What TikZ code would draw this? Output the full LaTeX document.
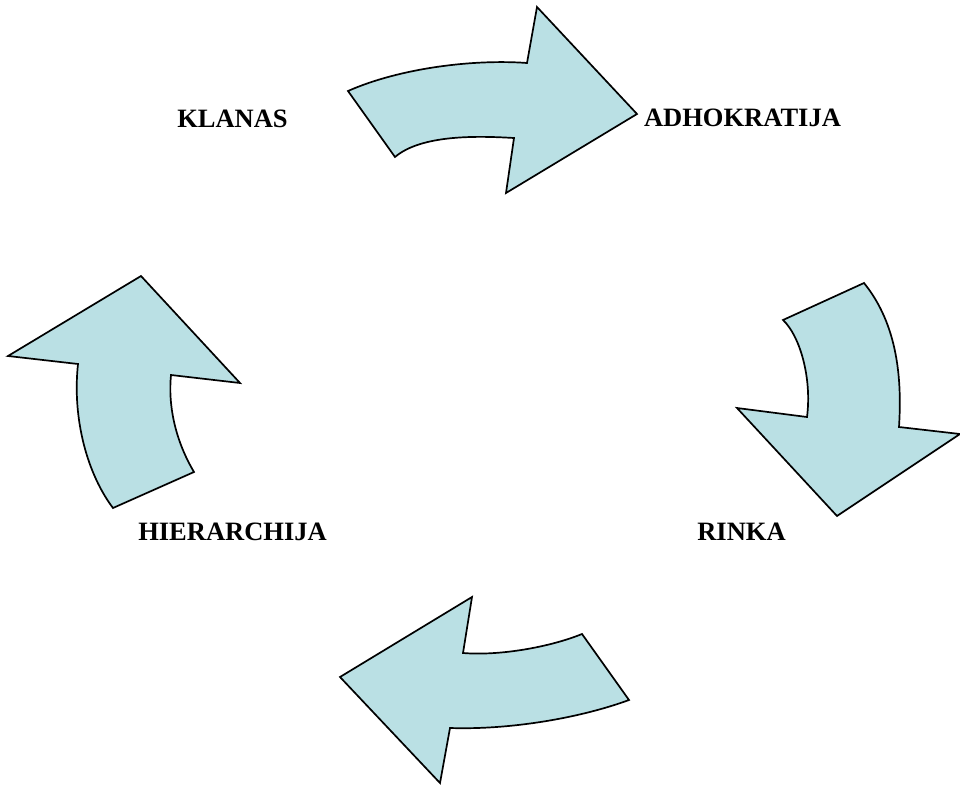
\documentclass[tikz,border=0pt]{standalone}
\usepackage{fontspec}
\setmainfont{Liberation Serif}
\begin{document}
\begin{tikzpicture}[x=1pt, y=-1pt,
  cyclearrow/.style={fill=arrowfill, draw=black, line width=1.7pt, line join=miter},
  phase/.style={font=\fontsize{26.5}{30}\selectfont\bfseries, inner sep=0pt, anchor=base}]
\definecolor{arrowfill}{RGB}{186,224,228}
\useasboundingbox (0,0) rectangle (960,784);

% top arrow: KLANAS -> ADHOKRATIJA
\draw[cyclearrow] (348,91) .. controls (400,68) and (474,59) .. (527,63)
  -- (537,7) -- (637,114) -- (506,193) -- (514,138)
  .. controls (480,136) and (422,134) .. (395,157) -- cycle;

% right arrow: ADHOKRATIJA -> RINKA
\draw[cyclearrow] (864,283) .. controls (898,325) and (902,380) .. (899,427)
  -- (960,434) -- (837,516) -- (737,408) -- (807,417)
  .. controls (812,378) and (800,336) .. (783,320) -- cycle;

% bottom arrow: RINKA -> HIERARCHIJA
\draw[cyclearrow] (629,700) .. controls (580,718) and (510,730) .. (450,728)
  -- (440,783) -- (340,677) -- (472,597) -- (463,653)
  .. controls (500,656) and (550,647) .. (582,634) -- cycle;

% left arrow: HIERARCHIJA -> KLANAS
\draw[cyclearrow] (113,508) .. controls (88,475) and (72,420) .. (78,364)
  -- (8,356) -- (141,276) -- (240,383) -- (171,375)
  .. controls (168,405) and (175,440) .. (194,472) -- cycle;

\node[phase] (klanas) at (232.5,127) {KLANAS};
\node[phase] (adhokratija) at (742.5,126.5) {ADHOKRATIJA};
\node[phase] (hierarchija) at (232.5,540) {HIERARCHIJA};
\node[phase] (rinka) at (741.5,540.5) {RINKA};
\end{tikzpicture}
\end{document}
